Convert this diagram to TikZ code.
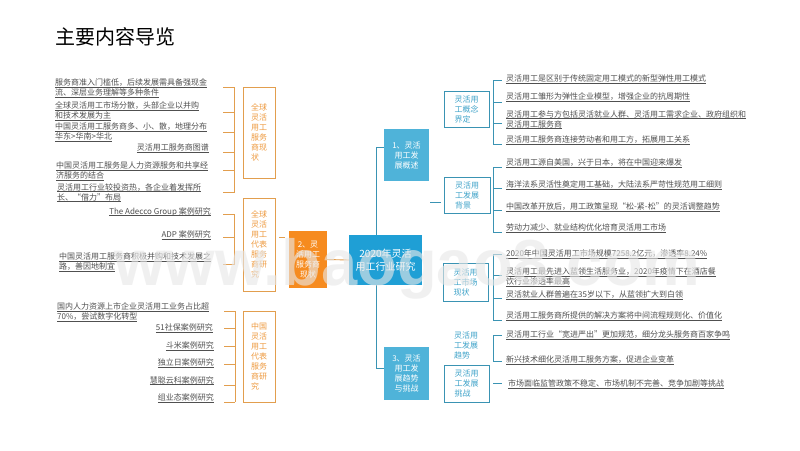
\documentclass[tikz,border=0pt]{standalone}
\usepackage{fontspec}
\setmainfont{Noto Sans CJK SC}
\newfontfamily\wmfont{Liberation Sans}[BoldFont={Liberation Sans Bold}]
\definecolor{txt}{HTML}{505050}
\definecolor{orln}{HTML}{E29E4E}
\definecolor{ortx}{HTML}{EE9A3F}
\definecolor{orfl}{HTML}{F68B1F}
\definecolor{blln}{HTML}{3A93B3}
\definecolor{bltx}{HTML}{3FA3C9}
\definecolor{blfl}{HTML}{4FB3D9}
\definecolor{cefl}{HTML}{1F9FD5}
\definecolor{wmk}{HTML}{E8E8E8}
\newcommand\ul[1]{\setbox0\hbox{#1}\rlap{\rule[-1.6pt]{\wd0}{0.6pt}}\box0}
\tikzset{
 x=1pt,y=-1pt,
 leaf/.style={inner sep=0pt,text=txt,align=left,font=\fontsize{8}{10}\selectfont},
 oline/.style={draw=orln,line width=0.9pt},
 bline/.style={draw=blln,line width=0.9pt},
 obox/.style={draw=orln,line width=0.9pt,fill=white,text=ortx,inner sep=0pt,font=\fontsize{8}{10}\selectfont,align=left},
 bbox/.style={draw=blln,line width=0.9pt,fill=white,text=bltx,inner sep=0pt,font=\fontsize{8}{10}\selectfont,align=left},
 bplain/.style={text=bltx,inner sep=0pt,font=\fontsize{8}{10}\selectfont,align=left},
 fillbox/.style={inner sep=0pt,text=white,font=\fontsize{8}{10}\selectfont,align=center},
}
\begin{document}
\begin{tikzpicture}
\useasboundingbox[fill=white] (0,0) rectangle (800,450);
\node[anchor=west,inner sep=0pt,font=\fontsize{20}{24}\selectfont] (title) at (55,37) {主要内容导览};

% connectors
\coordinate (cTop) at (376,235);
\coordinate (cBot) at (376,285);
\coordinate (j1) at (376,147);
\coordinate (j3) at (376,368);
\coordinate (e1) at (384,147);
\coordinate (e3) at (384,368);
\draw[draw=blln,line width=0.9pt] (cTop) -- (j1) -- (e1);
\draw[draw=blln,line width=0.9pt] (cBot) -- (j3) -- (e3);

% centre and main branches
\node[fillbox,fill=cefl,minimum width=73pt,minimum height=50pt,font=\fontsize{10}{13}\selectfont] (centre) at (385.5,260) {2020年灵活\\用工行业研究};
\node[fillbox,fill=orfl,minimum width=38pt,minimum height=57pt] (two) at (308,259.5) {2、灵\\活用工\\服务商\\现状};
\node[fillbox,fill=blfl,minimum width=45pt,minimum height=52pt] (one) at (406.5,155) {1、灵活\\用工发\\展概述};
\node[fillbox,fill=blfl,minimum width=45pt,minimum height=53pt] (three) at (406.5,373.5) {3、灵活\\用工发\\展趋势\\与挑战};
\draw[oline] (two.east) -- (centre.west);
\coordinate (o1) at (279,237);
\coordinate (o2) at (285,237);
\draw[oline] (o1) -- (o2);

% left boxes
\node[obox,minimum width=32pt,minimum height=91pt,text width=16pt] (g1) at (259,132.5) {全球\\灵活\\用工\\服务\\商现\\状};
\node[obox,minimum width=32pt,minimum height=93pt,text width=16pt] (g2) at (259,244.5) {全球\\灵活\\用工\\代表\\服务\\商研\\究};
\node[obox,minimum width=32pt,minimum height=91pt,text width=16pt] (g3) at (259,356.5) {中国\\灵活\\用工\\代表\\服务\\商研\\究};

% left brackets
\foreach \n/\y in {a/87,b/112.5,c/132,d/152,e/170,f/192}{
 \coordinate (la\n) at (223,\y); \coordinate (ma\n) at (234.5,\y);
 \draw[oline] (la\n) -- (ma\n);}
\draw[oline] (maa) -- (maf);
\foreach \n/\y in {a/214,b/237,c/264}{
 \coordinate (lb\n) at (223,\y); \coordinate (mb\n) at (234.5,\y);
 \draw[oline] (lb\n) -- (mb\n);}
\draw[oline] (mba) -- (mbc);
\foreach \n/\y in {a/311,b/328,c/346,d/364,e/385,f/402}{
 \coordinate (lc\n) at (224,\y); \coordinate (mc\n) at (235,\y);
 \draw[oline] (lc\n) -- (mc\n);}
\draw[oline] (mca) -- (mcf);

% left leaves
\node[leaf,anchor=west] (a1) at (55,88) {\ul{服务商准入门槛低，后续发展需具备强现金}\\\ul{流、深层业务理解等多种条件}};
\node[leaf,anchor=west] (a2) at (55,111) {\ul{全球灵活用工市场分散，头部企业以并购}\\\ul{和技术发展为主}};
\node[leaf,anchor=west] (a3) at (55,132) {\ul{中国灵活用工服务商多、小、散，地理分布}\\\ul{华东>华南>华北}};
\node[leaf,anchor=east] (a4) at (209,148) {\ul{灵活用工服务商图谱}};
\node[leaf,anchor=west] (a5) at (56,171) {\ul{中国灵活用工服务是人力资源服务和共享经}\\\ul{济服务的结合}};
\node[leaf,anchor=west] (a6) at (57,192.5) {\ul{灵活用工行业较投资热，各企业着发挥所}\\\ul{长、“借力”布局}};

\node[leaf,anchor=east] (b1) at (211,212) {\ul{The Adecco Group 案例研究}};
\node[leaf,anchor=east] (b2) at (211,235) {\ul{ADP 案例研究}};
\node[leaf,anchor=west] (b3) at (59,262) {\ul{中国灵活用工服务商积极并购和技术发展之}\\\ul{路，善因地制宜}};

\node[leaf,anchor=west] (c1) at (57,312) {\ul{国内人力资源上市企业灵活用工业务占比超}\\\ul{70\%，尝试数字化转型}};
\node[leaf,anchor=east] (c2) at (213,328) {\ul{51社保案例研究}};
\node[leaf,anchor=east] (c3) at (214,346) {\ul{斗米案例研究}};
\node[leaf,anchor=east] (c4) at (214,363) {\ul{独立日案例研究}};
\node[leaf,anchor=east] (c5) at (214,380.5) {\ul{慧聪云科案例研究}};
\node[leaf,anchor=east] (c6) at (214,398) {\ul{组业态案例研究}};

% right boxes
\node[bbox,minimum width=45pt,minimum height=36pt,text width=24pt] (d1) at (466.5,109) {灵活用\\工概念\\界定};
\node[bbox,minimum width=46pt,minimum height=36pt,text width=24pt] (d2) at (467,195) {灵活用\\工发展\\背景};
\node[bbox,minimum width=45pt,minimum height=38pt,text width=24pt] (d3) at (465.5,282) {灵活用\\工市场\\现状};
\node[bplain,anchor=west] (d4) at (454,345) {灵活用\\工发展\\趋势};
\node[bbox,minimum width=45pt,minimum height=37pt,text width=24pt] (d5) at (466.5,383.5) {灵活用\\工发展\\挑战};

% right brackets
\coordinate (t2a) at (430,202);
\coordinate (t2b) at (441,202);
\draw[bline] (t2a) -- (t2b);
\foreach \n/\y in {a/80,b/102,c/123,d/144}{
 \coordinate (ra\n) at (493,\y); \coordinate (sa\n) at (502,\y);
 \draw[bline] (ra\n) -- (sa\n);}
\draw[bline] (raa) -- (rad);
\foreach \n/\y in {a/167,b/188,c/210,d/232}{
 \coordinate (rb\n) at (493,\y); \coordinate (sb\n) at (502,\y);
 \draw[bline] (rb\n) -- (sb\n);}
\draw[bline] (rba) -- (rbd);
\foreach \n/\y in {a/254,b/275,c/298,d/320}{
 \coordinate (rc\n) at (493,\y); \coordinate (sc\n) at (502,\y);
 \draw[bline] (rc\n) -- (sc\n);}
\draw[bline] (rca) -- (rcd);
\foreach \n/\y in {a/335,b/361}{
 \coordinate (rd\n) at (493,\y); \coordinate (sd\n) at (502,\y);
 \draw[bline] (rd\n) -- (sd\n);}
\draw[bline] (rda) -- (rdb);
\coordinate (re1) at (493,383);
\coordinate (re2) at (502,383);
\draw[bline] (re1) -- (re2);

% right leaves
\node[leaf,anchor=west] (r1) at (506,79) {\ul{灵活用工是区别于传统固定用工模式的新型弹性用工模式}};
\node[leaf,anchor=west] (r2) at (506,97) {\ul{灵活用工雏形为弹性企业模型，增强企业的抗周期性}};
\node[leaf,anchor=west] (r3) at (506,119.5) {\ul{灵活用工参与方包括灵活就业人群、灵活用工需求企业、政府组织和}\\\ul{灵活用工服务商}};
\node[leaf,anchor=west] (r4) at (506,140) {\ul{灵活用工服务商连接劳动者和用工方，拓展用工关系}};
\node[leaf,anchor=west] (r5) at (506,163) {\ul{灵活用工源自美国，兴于日本，将在中国迎来爆发}};
\node[leaf,anchor=west] (r6) at (506,185) {\ul{海洋法系灵活性奠定用工基础，大陆法系严苛性规范用工细则}};
\node[leaf,anchor=west] (r7) at (506,207) {\ul{中国改革开放后，用工政策呈现“松-紧-松”的灵活调整趋势}};
\node[leaf,anchor=west] (r8) at (506,228) {\ul{劳动力减少、就业结构优化培育灵活用工市场}};
\node[leaf,anchor=west] (r9) at (506,254) {\ul{2020年中国灵活用工市场规模7258.2亿元，渗透率8.24\%}};
\node[leaf,anchor=west] (r10) at (506,277) {\ul{灵活用工最先进入蓝领生活服务业，2020年疫情下在酒店餐}\\\ul{饮行业渗透率最高}};
\node[leaf,anchor=west] (r11) at (506,295) {\ul{灵活就业人群普遍在35岁以下，从蓝领扩大到白领}};
\node[leaf,anchor=west] (r12) at (506,316) {\ul{灵活用工服务商所提供的解决方案将中间流程规则化、价值化}};
\node[leaf,anchor=west] (r13) at (506,335) {\ul{灵活用工行业“宽进严出”更加规范，细分龙头服务商百家争鸣}};
\node[leaf,anchor=west] (r14) at (506,360) {\ul{新兴技术细化灵活用工服务方案，促进企业变革}};
\node[leaf,anchor=west] (r15) at (508,384) {\ul{市场面临监管政策不稳定、市场机制不完善、竞争加剧等挑战}};

% watermark
\node[anchor=base west,inner sep=0pt,text=wmk,text opacity=0.62,font=\wmfont\bfseries\fontsize{65}{70}\selectfont] (mark) at (114,285) {www.baogao8.com};
\end{tikzpicture}
\end{document}
